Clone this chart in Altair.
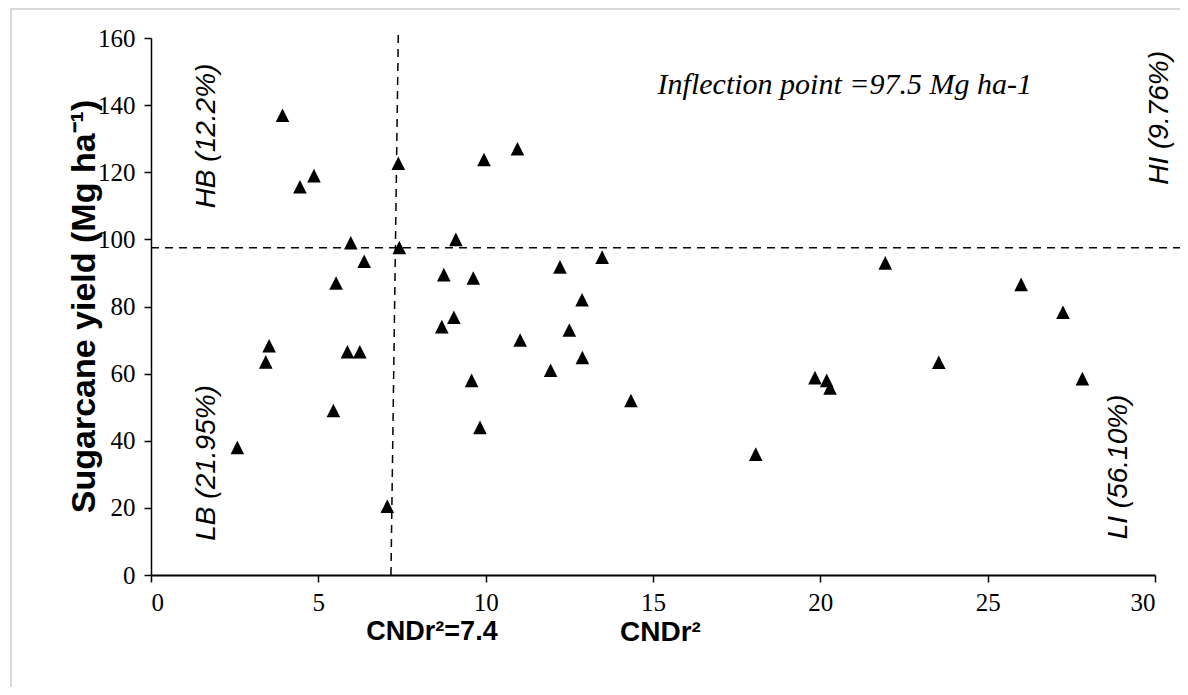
import altair as alt
import pandas as pd

# ---- data ----
cndr2 = [2.58, 3.43, 3.53, 3.93, 4.45, 4.87, 5.45, 5.53, 5.87, 5.97,
         6.24, 6.37, 7.06, 7.39, 7.42, 8.69, 8.75, 9.05, 9.11, 9.58,
         9.63, 9.83, 9.95, 10.95, 11.03, 11.94, 12.22, 12.50, 12.88, 12.89,
         13.48, 14.34, 18.07, 19.84, 20.19, 20.29, 21.94, 23.54, 26.00, 27.25,
         27.83]
yield_mg = [38, 63.5, 68.3, 137, 115.7, 119, 49, 87, 66.5, 99,
            66.5, 93.5, 20.5, 122.7, 97.6, 74, 89.5, 76.8, 100, 58,
            88.5, 44, 123.8, 127, 70, 61, 91.8, 73, 82, 64.8,
            94.7, 52, 36, 58.8, 58, 55.7, 93, 63.4, 86.6, 78.3,
            58.5]

x_ticks = [0, 5, 10, 15, 20, 25, 30]
y_ticks = [0, 20, 40, 60, 80, 100, 120, 140, 160]

# reference lines (threshold CNDr2 and inflection point of yield)
vline_x = [7.17]
vline_x2 = [7.39]
vline_y = [0]
vline_y2 = [161.5]
hline_y = [97.5]
hline_x = [0]
hline_x2 = [31]

# quadrant labels
quad_labels = ["HB (12.2%)", "LB (21.95%)", "HI (9.76%)", "LI (56.10%)"]
quad_x = [1.67, 1.67, 30.15, 28.92]
quad_y = [130.8, 33.4, 136.2, 32.2]

infl_label = ["Inflection point =97.5 Mg ha-1"]
infl_x = [20.73]
infl_y = [146]

pts = pd.DataFrame({"x": cndr2, "y": yield_mg})
vl = pd.DataFrame({"x": vline_x, "x2": vline_x2, "y": vline_y, "y2": vline_y2})
hl = pd.DataFrame({"x": hline_x, "x2": hline_x2, "y": hline_y})
quad = pd.DataFrame({"x": quad_x, "y": quad_y, "t": quad_labels})
infl = pd.DataFrame({"x": infl_x, "y": infl_y, "t": infl_label})

xs = alt.Scale(domain=[0, 30], nice=False, zero=False)
ys = alt.Scale(domain=[0, 160], nice=False, zero=False)

x_axis = alt.Axis(values=x_ticks, grid=False, labelFont="Liberation Serif",
                  labelFontSize=25, labelColor="black", labelPadding=8,
                  tickSize=7, tickColor="black", tickWidth=1.5,
                  domainColor="black", domainWidth=2,
                  title="CNDr²", titleFont="Liberation Sans", titleFontSize=28,
                  titleFontWeight="bold", titleColor="black",
                  titleX=509, titleY=57, titleAlign="center", titleBaseline="middle")
y_axis = alt.Axis(values=y_ticks, grid=False, labelFont="Liberation Serif",
                  labelFontSize=25, labelColor="black", labelPadding=9,
                  tickSize=7, tickColor="black", tickWidth=1.5,
                  domainColor="black", domainWidth=1.5,
                  title="Sugarcane yield (Mg ha⁻¹)", titleFont="Liberation Sans",
                  titleFontSize=34, titleFontWeight="bold", titleColor="black",
                  titleAngle=270, titleX=-67, titleY=268,
                  titleAlign="center", titleBaseline="middle")

scatter = alt.Chart(pts).mark_point(
    shape="M0,-1L1,1L-1,1Z", filled=True, color="black", opacity=1, size=185
).encode(
    x=alt.X("x:Q", scale=xs, axis=x_axis),
    y=alt.Y("y:Q", scale=ys, axis=y_axis),
)

vrule = alt.Chart(vl).mark_rule(color="black", strokeDash=[8, 6], strokeWidth=1.5).encode(
    x="x:Q", x2="x2:Q", y="y:Q", y2="y2:Q")
hrule = alt.Chart(hl).mark_rule(color="black", strokeDash=[8, 6], strokeWidth=1.5).encode(
    x="x:Q", x2="x2:Q", y="y:Q")

quad_text = alt.Chart(quad).mark_text(
    angle=270, font="Liberation Sans", fontStyle="italic", fontSize=28,
    align="center", baseline="middle", color="black"
).encode(x="x:Q", y="y:Q", text="t:N")

infl_text = alt.Chart(infl).mark_text(
    font="Liberation Serif", fontStyle="italic", fontSize=30,
    align="center", baseline="middle", color="black"
).encode(x="x:Q", y="y:Q", text="t:N")

thr_text = alt.Chart(infl).mark_text(
    font="Liberation Sans", fontWeight="bold", fontSize=27,
    align="center", baseline="middle", color="black", text="CNDr²=7.4"
).encode(x=alt.value(281), y=alt.value(594))

# light grey frame around the figure
frame_left = alt.Chart(infl).mark_rule(color="#d9d9d9", strokeWidth=2).encode(
    x=alt.value(-140), y=alt.value(-30), y2=alt.value(660))
frame_top = alt.Chart(infl).mark_rule(color="#d9d9d9", strokeWidth=2).encode(
    x=alt.value(-141), x2=alt.value(1040), y=alt.value(-29))

chart = alt.layer(
    frame_left, frame_top, hrule, vrule, scatter, quad_text, infl_text, thr_text
).properties(
    width=1004, height=537,
    autosize=alt.AutoSizeParams(type="none"),
    padding={"left": 143, "top": 30, "right": 25, "bottom": 112},
    background="white",
).configure_view(stroke=None)

chart.save("out.html", embed_options={"renderer": "svg", "actions": False})
